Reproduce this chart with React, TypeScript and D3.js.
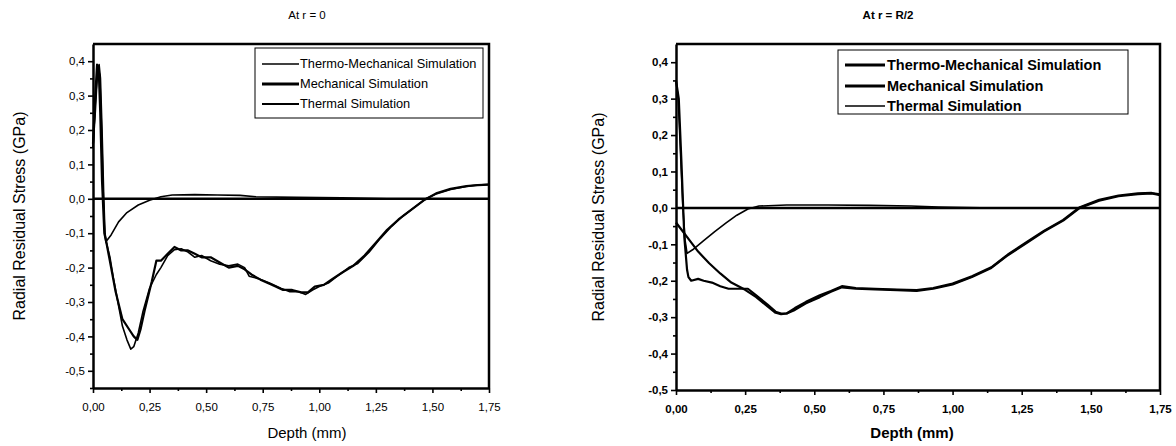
import React, { useEffect, useRef } from "react";
import * as d3 from "d3";

// depth (mm) / radial residual stress (GPa)
const r0ThermoMech: [number, number][] = [
  [0, 0.15], [0.01, 0.25], [0.02, 0.37], [0.027, 0.39], [0.033, 0.35], [0.04, 0.2],
  [0.047, 0.02], [0.053, -0.1], [0.06, -0.13], [0.075, -0.17], [0.09, -0.23], [0.11, -0.3],
  [0.13, -0.37], [0.15, -0.41], [0.167, -0.437], [0.18, -0.43], [0.2, -0.39], [0.22, -0.33],
  [0.25, -0.26], [0.28, -0.22], [0.3, -0.2], [0.33, -0.165], [0.36, -0.148], [0.39, -0.145],
  [0.42, -0.155], [0.45, -0.17], [0.48, -0.165], [0.52, -0.18], [0.56, -0.19], [0.6, -0.195],
  [0.64, -0.19], [0.67, -0.2], [0.69, -0.225], [0.73, -0.232], [0.78, -0.245], [0.83, -0.26],
  [0.87, -0.27], [0.91, -0.27], [0.94, -0.278], [0.97, -0.265], [1.0, -0.255], [1.04, -0.245],
  [1.08, -0.225], [1.13, -0.2], [1.17, -0.188], [1.22, -0.155], [1.27, -0.115], [1.32, -0.08],
  [1.37, -0.05], [1.42, -0.025], [1.47, 0.0], [1.52, 0.015], [1.58, 0.027], [1.65, 0.036],
  [1.7, 0.04], [1.75, 0.042],
];

const r0Mech: [number, number][] = [
  [0, 0.16], [0.01, 0.3], [0.018, 0.39], [0.025, 0.38], [0.032, 0.25], [0.04, 0.05],
  [0.05, -0.1], [0.06, -0.13], [0.08, -0.2], [0.1, -0.27], [0.13, -0.35], [0.16, -0.38],
  [0.18, -0.4], [0.196, -0.41], [0.21, -0.38], [0.23, -0.32], [0.26, -0.24], [0.28, -0.18],
  [0.3, -0.18], [0.33, -0.16], [0.36, -0.14], [0.39, -0.15], [0.42, -0.15], [0.45, -0.16],
  [0.48, -0.17], [0.52, -0.17], [0.56, -0.185], [0.6, -0.2], [0.64, -0.195], [0.67, -0.205],
  [0.7, -0.22], [0.74, -0.235], [0.79, -0.25], [0.84, -0.265], [0.88, -0.265], [0.92, -0.272],
  [0.95, -0.272], [0.98, -0.255], [1.02, -0.25], [1.06, -0.232], [1.1, -0.215], [1.15, -0.195],
  [1.2, -0.165], [1.25, -0.128], [1.3, -0.09], [1.35, -0.06], [1.4, -0.035], [1.46, -0.005],
  [1.52, 0.017], [1.58, 0.029], [1.65, 0.037], [1.7, 0.04], [1.75, 0.041],
];

const r0Thermal: [number, number][] = [
  [0, 0.15], [0.012, 0.3], [0.022, 0.38], [0.03, 0.36], [0.038, 0.2], [0.046, 0.0],
  [0.052, -0.1], [0.057, -0.125], [0.08, -0.105], [0.113, -0.067], [0.15, -0.04], [0.2, -0.018],
  [0.25, -0.004], [0.3, 0.006], [0.35, 0.011], [0.45, 0.012], [0.55, 0.011], [0.65, 0.01],
  [0.72, 0.006], [0.9, 0.004], [1.1, 0.003], [1.3, 0.0], [1.75, 0.0],
];

const rHalfThermoMech: [number, number][] = [
  [0, 0.35], [0.01, 0.3], [0.02, 0.12], [0.03, -0.08], [0.04, -0.17], [0.045, -0.19],
  [0.055, -0.2], [0.08, -0.195], [0.1, -0.2], [0.13, -0.205], [0.16, -0.215], [0.19, -0.222],
  [0.22, -0.222], [0.26, -0.222], [0.29, -0.24], [0.33, -0.265], [0.36, -0.285], [0.38, -0.29],
  [0.4, -0.29], [0.43, -0.28], [0.47, -0.262], [0.52, -0.245], [0.56, -0.23], [0.6, -0.218],
  [0.65, -0.222], [0.72, -0.224], [0.8, -0.226], [0.87, -0.228], [0.93, -0.222], [1.0, -0.21],
  [1.07, -0.19], [1.14, -0.165], [1.2, -0.13], [1.27, -0.095], [1.33, -0.065], [1.4, -0.035],
  [1.46, 0.0], [1.53, 0.02], [1.6, 0.032], [1.67, 0.038], [1.72, 0.04], [1.75, 0.035],
];

const rHalfMech: [number, number][] = [
  [0, -0.04], [0.02, -0.06], [0.05, -0.09], [0.08, -0.12], [0.12, -0.152], [0.16, -0.18],
  [0.2, -0.205], [0.25, -0.225], [0.29, -0.245], [0.33, -0.27], [0.36, -0.288], [0.38, -0.292],
  [0.4, -0.29], [0.43, -0.275], [0.47, -0.258], [0.52, -0.24], [0.56, -0.228], [0.6, -0.215],
  [0.65, -0.22], [0.72, -0.222], [0.8, -0.224], [0.87, -0.226], [0.93, -0.22], [1.0, -0.208],
  [1.07, -0.188], [1.14, -0.163], [1.2, -0.128], [1.27, -0.093], [1.33, -0.063], [1.4, -0.033],
  [1.46, 0.002], [1.53, 0.022], [1.6, 0.034], [1.67, 0.04], [1.72, 0.041], [1.75, 0.037],
];

const rHalfThermal: [number, number][] = [
  [0, 0.35], [0.008, 0.3], [0.018, 0.12], [0.025, 0.0], [0.033, -0.09], [0.04, -0.125],
  [0.06, -0.115], [0.1, -0.09], [0.14, -0.065], [0.18, -0.042], [0.22, -0.02], [0.26, -0.003],
  [0.3, 0.005], [0.4, 0.008], [0.55, 0.008], [0.7, 0.007], [0.85, 0.005], [0.95, 0.002],
  [1.1, 0.0], [1.75, 0.0],
];

const seriesNames = ["Thermo-Mechanical Simulation", "Mechanical Simulation", "Thermal Simulation"];
const xTicks = [0, 0.25, 0.5, 0.75, 1.0, 1.25, 1.5, 1.75];
const xMinorTicks = [0.125, 0.375, 0.625, 0.875, 1.125, 1.375, 1.625];
const yTicks = [-0.5, -0.4, -0.3, -0.2, -0.1, 0, 0.1, 0.2, 0.3, 0.4];
const yMinorTicks = [-0.55, -0.45, -0.35, -0.25, -0.15, -0.05, 0.05, 0.15, 0.25, 0.35];

const FONT = "'Liberation Sans', Arial, sans-serif";

const panels = [
  {
    title: "At r = 0",
    titleX: 307,
    xLabelX: 307,
    series: [r0ThermoMech, r0Mech, r0Thermal],
    widths: [1.6, 2.2, 1.6],
    legendWidths: [1.6, 3, 2.2],
    yDomain: [-0.55, 0.45],
    left: 93, right: 489, top: 44, bottom: 388,
    yLabelX: 19,
    legend: { x: 255, y: 48, w: 228, h: 70, rows: [64, 84, 104], line: [262, 299], textX: 300, size: 12.8 },
    weight: "normal",
  },
  {
    title: "At r = R/2",
    titleX: 888,
    xLabelX: 912,
    series: [rHalfThermoMech, rHalfMech, rHalfThermal],
    widths: [2.2, 2.2, 1.6],
    legendWidths: [3, 3, 1.6],
    yDomain: [-0.5, 0.45],
    left: 676, right: 1160, top: 44, bottom: 390,
    yLabelX: 598,
    legend: { x: 838, y: 50, w: 290, h: 64, rows: [65, 86, 106], line: [845, 885], textX: 887, size: 14.5 },
    weight: "bold",
  },
];

const fmt = (d: number, digits: number) => d3.format(`.${digits}f`)(d).replace(".", ",").replace("−", "-");

const App = () => {
  const ref = useRef<SVGSVGElement>(null);

  useEffect(() => {
    const svg = d3.select(ref.current);
    svg.selectAll("*").remove();

    panels.forEach((p) => {
      const x = d3.scaleLinear().domain([0, 1.75]).range([p.left, p.right]);
      const y = d3.scaleLinear().domain(p.yDomain).range([p.bottom, p.top]);
      const g = svg.append("g");

      // title
      g.append("text")
        .attr("x", p.titleX)
        .attr("y", 19)
        .attr("text-anchor", "middle")
        .style("font-family", FONT)
        .style("font-size", "11.5px")
        .style("font-weight", p.weight)
        .text(p.title);

      // zero line
      g.append("line")
        .attr("x1", x(0)).attr("x2", x(1.75))
        .attr("y1", y(0)).attr("y2", y(0))
        .attr("stroke", "#000")
        .attr("stroke-width", 2.5);

      // curves
      const line = d3.line<[number, number]>().x((d) => x(d[0])).y((d) => y(d[1]));
      p.series.forEach((s, i) => {
        g.append("path")
          .attr("d", line(s))
          .attr("fill", "none")
          .attr("stroke", "#000")
          .attr("stroke-width", p.widths[i])
          .attr("stroke-linejoin", "round");
      });

      // frame top + right
      g.append("path")
        .attr("d", `M${p.left},${p.top}H${p.right}V${p.bottom}`)
        .attr("fill", "none")
        .attr("stroke", "#000")
        .attr("stroke-width", 2.5);

      // x axis
      const xAxis = g.append("g")
        .attr("transform", `translate(0,${p.bottom})`)
        .call(d3.axisBottom(x).tickValues(xTicks).tickSize(5).tickSizeOuter(0).tickFormat((d) => fmt(+d, 2)));
      g.append("g")
        .attr("transform", `translate(0,${p.bottom})`)
        .call(d3.axisBottom(x).tickValues(xMinorTicks).tickSize(3).tickFormat(() => ""))
        .select(".domain").remove();

      // y axis
      const yAxis = g.append("g")
        .attr("transform", `translate(${p.left},0)`)
        .call(d3.axisLeft(y).tickValues(yTicks).tickSize(5).tickSizeOuter(0).tickFormat((d) => fmt(+d, 1)));
      g.append("g")
        .attr("transform", `translate(${p.left},0)`)
        .call(d3.axisLeft(y).tickValues(yMinorTicks.filter((v) => v >= p.yDomain[0])).tickSize(3).tickFormat(() => ""))
        .select(".domain").remove();

      [xAxis, yAxis].forEach((a) => {
        a.select(".domain").attr("stroke-width", 2.5);
        a.selectAll(".tick text")
          .style("font-family", FONT)
          .style("font-size", "11.5px")
          .style("font-weight", p.weight)
          .attr("fill", "#000");
      });
      g.selectAll(".tick line").attr("stroke-width", 1.6);
      xAxis.selectAll(".tick text").attr("dy", "1.3em");

      // axis titles
      g.append("text")
        .attr("x", p.xLabelX)
        .attr("y", 438)
        .attr("text-anchor", "middle")
        .style("font-family", FONT)
        .style("font-size", "15px")
        .style("font-weight", p.weight)
        .text("Depth (mm)");

      g.append("text")
        .attr("transform", `translate(${p.yLabelX},${(p.top + p.bottom) / 2}) rotate(-90)`)
        .attr("text-anchor", "middle")
        .attr("dy", "0.35em")
        .style("font-family", FONT)
        .style("font-size", "16px")
        .text("Radial Residual Stress (GPa)");

      // legend
      const L = p.legend;
      g.append("rect")
        .attr("x", L.x).attr("y", L.y).attr("width", L.w).attr("height", L.h)
        .attr("fill", "#fff")
        .attr("stroke", "#000")
        .attr("stroke-width", 1);
      seriesNames.forEach((name, i) => {
        g.append("line")
          .attr("x1", L.line[0]).attr("x2", L.line[1])
          .attr("y1", L.rows[i]).attr("y2", L.rows[i])
          .attr("stroke", "#000")
          .attr("stroke-width", p.legendWidths[i]);
        g.append("text")
          .attr("x", L.textX)
          .attr("y", L.rows[i])
          .attr("dy", "0.35em")
          .style("font-family", FONT)
          .style("font-size", `${L.size}px`)
          .style("font-weight", p.weight)
          .text(name);
      });
    });
  }, []);

  return (
    <svg ref={ref} width={1176} height={446} style={{ position: "absolute", left: 0, top: 0, background: "#fff" }} />
  );
};

export default App;
